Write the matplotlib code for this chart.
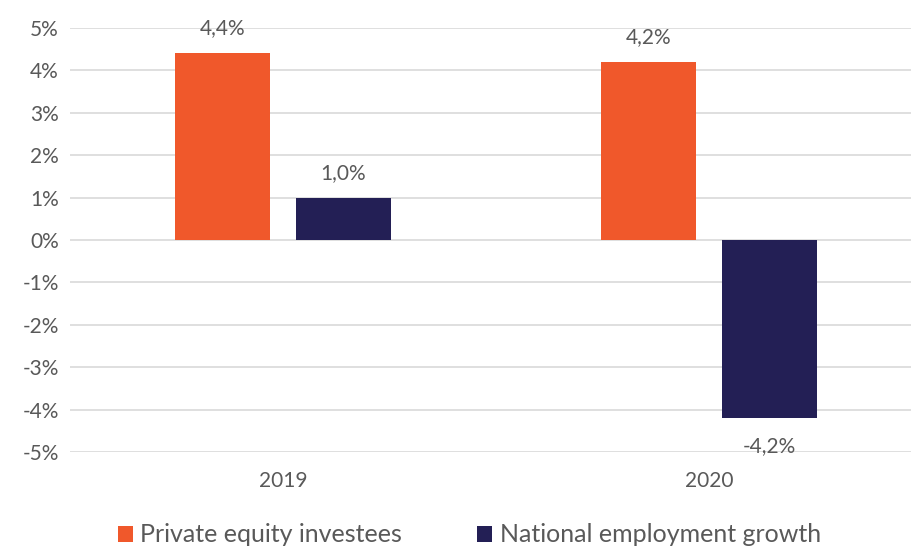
import numpy as np
import matplotlib.pyplot as plt

plt.rcParams['font.family'] = ['Lato', 'DejaVu Sans']

years = ['2019', '2020']
private_equity = [4.4, 4.2]
national_growth = [1.0, -4.2]

orange = '#F0582B'
navy = '#231F55'
grey = '#595959'

fig = plt.figure(figsize=(9.11, 5.46), dpi=100)
ax = fig.add_axes([70 / 911, 94 / 546, 841 / 911, 424 / 546])

x = np.arange(len(years))
w = 0.223
off = 0.142
b1 = ax.bar(x - off, private_equity, w, color=orange, label='Private equity investees', zorder=3)
b2 = ax.bar(x + off, national_growth, w, color=navy, label='National employment growth', zorder=3)

def fmt(v):
    return f'{v:.1f}%'.replace('.', ',')

for bars, vals in [(b1, private_equity), (b2, national_growth)]:
    for r, v in zip(bars, vals):
        cx = r.get_x() + r.get_width() / 2
        dy = 18 if v >= 0 else -20
        ax.annotate(fmt(v), (cx, v), xytext=(0, dy), textcoords='offset points',
                    ha='center', va='center', fontsize=15, color=grey)

ax.set_xlim(-0.5, 1.474)
ax.set_ylim(-5, 5)
ax.set_yticks(range(-5, 6))
ax.set_yticklabels([f'{t}%' for t in range(-5, 6)])
ax.set_xticks(x)
ax.set_xticklabels(years)
ax.tick_params(length=0, labelsize=15, colors=grey)
ax.tick_params(axis='y', pad=8)
ax.tick_params(axis='x', pad=14)
ax.grid(axis='y', color='#D9D9D9', linewidth=1.2, zorder=0)
for s in ax.spines.values():
    s.set_visible(False)

fig.legend(handles=[b1, b2], loc='lower center', bbox_to_anchor=(0.515, -0.042), ncol=2,
           frameon=False, fontsize=18, labelcolor=grey, handlelength=0.6, handleheight=0.6,
           handletextpad=0.3, columnspacing=3.0)

fig.savefig('out.png', dpi=100)
